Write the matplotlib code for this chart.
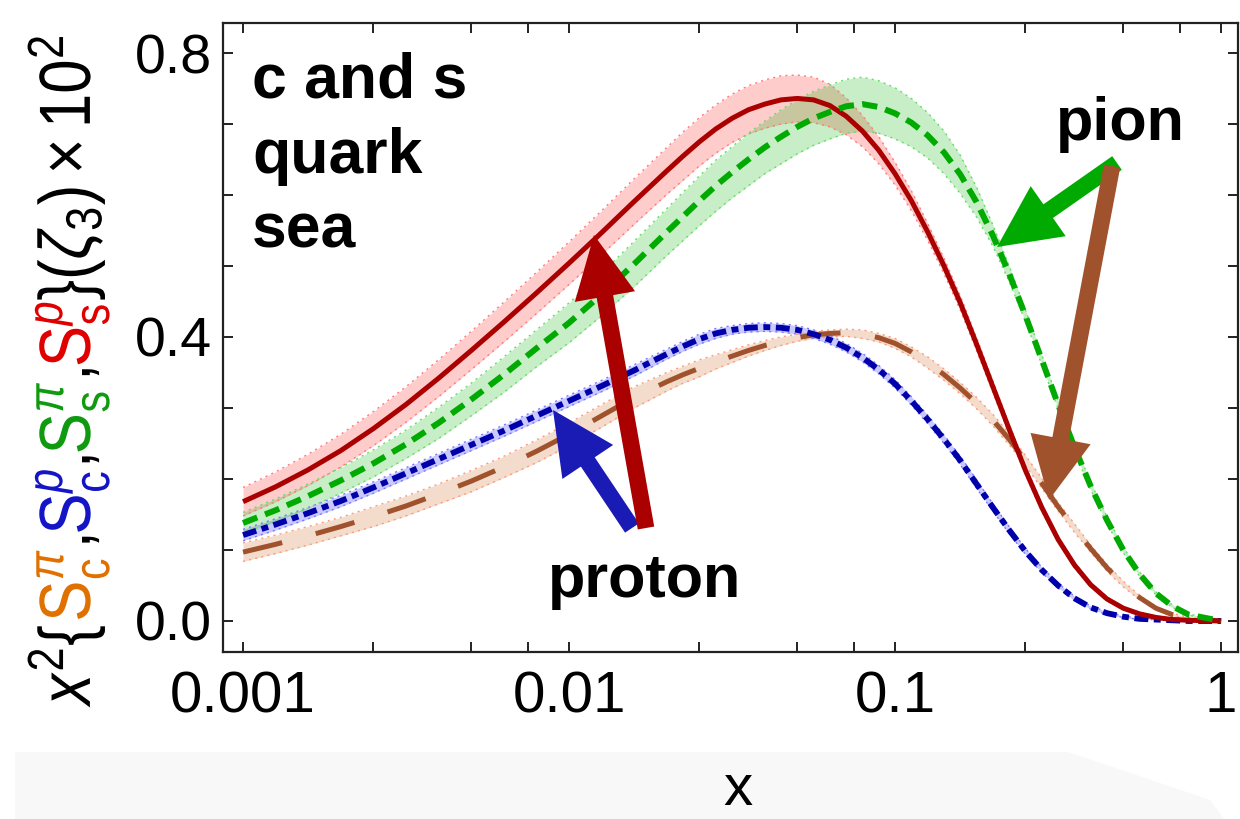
import numpy as np
import matplotlib
matplotlib.use("Agg")
import matplotlib.pyplot as plt
from matplotlib.patches import Polygon, PathPatch
from matplotlib.textpath import TextPath
from matplotlib.font_manager import FontProperties
from matplotlib.transforms import Affine2D
from matplotlib.ticker import FixedLocator, FixedFormatter, NullFormatter

plt.rcParams['font.family'] = ['Liberation Sans', 'DejaVu Sans']
plt.rcParams['mathtext.fontset'] = 'custom'
plt.rcParams['mathtext.rm'] = 'Liberation Sans'
plt.rcParams['mathtext.it'] = 'Liberation Sans:italic'
plt.rcParams['mathtext.bf'] = 'Liberation Sans:bold'
plt.rcParams['mathtext.sf'] = 'Liberation Sans'
plt.rcParams['lines.scale_dashes'] = False

# ---- data: x^2 * S(x) at zeta_3, scaled by 10^2 ----
x = [0.001, 0.001259, 0.001585, 0.001995, 0.002512, 0.003162, 0.003981,
     0.005012, 0.00631, 0.007943, 0.01, 0.01259, 0.01585,
     0.01995, 0.02239, 0.02512, 0.02818, 0.03162, 0.03548, 0.03981, 0.04467,
     0.05012, 0.05623, 0.0631, 0.07079, 0.07943, 0.08913, 0.1, 0.1122,
     0.1259, 0.1413, 0.1585, 0.1778, 0.1995, 0.2239, 0.2512, 0.2818,
     0.3162, 0.3548, 0.3981, 0.4467, 0.5012, 0.5623, 0.631, 0.7079,
     0.7943, 1.0]

# s quark, proton (red, solid)
ss_p = [0.168, 0.189, 0.213, 0.240, 0.271, 0.305, 0.342, 0.381, 0.421,
        0.462, 0.504, 0.547, 0.591,
        0.634, 0.655, 0.675, 0.693, 0.708, 0.720, 0.728, 0.734, 0.736, 0.734,
        0.726, 0.711, 0.690, 0.663, 0.630, 0.592, 0.548, 0.500, 0.448, 0.390,
        0.330, 0.270, 0.212, 0.160, 0.115, 0.079, 0.051, 0.031, 0.018, 0.010,
        0.005, 0.002, 0.001, 0.0]
ss_p_err = [0.020, 0.021, 0.022, 0.023, 0.024, 0.025, 0.026, 0.027, 0.028,
            0.029, 0.030, 0.031, 0.032,
            0.033, 0.034, 0.034, 0.034, 0.034, 0.034, 0.034, 0.034, 0.033,
            0.032, 0.030, 0.026, 0.022, 0.019, 0.016, 0.014, 0.012, 0.011,
            0.010, 0.009, 0.008, 0.007, 0.006, 0.005, 0.004, 0.004, 0.003,
            0.003, 0.002, 0.002, 0.001, 0.001, 0.0, 0.0]

# s quark, pion (green, dashed)
ss_pi = [0.138, 0.156, 0.176, 0.198, 0.222, 0.249, 0.279, 0.312, 0.347,
         0.384, 0.420, 0.460, 0.503,
         0.548, 0.570, 0.592, 0.613, 0.632, 0.650, 0.667, 0.682, 0.696, 0.708,
         0.717, 0.725, 0.728, 0.724, 0.715, 0.702, 0.684, 0.660, 0.629, 0.590,
         0.543, 0.489, 0.430, 0.368, 0.305, 0.245, 0.190, 0.142, 0.100, 0.066,
         0.039, 0.021, 0.009, 0.0]
ss_pi_err = [0.015, 0.016, 0.017, 0.018, 0.019, 0.020, 0.022, 0.023, 0.025,
             0.026, 0.028, 0.030, 0.032,
             0.033, 0.034, 0.035, 0.036, 0.036, 0.037, 0.037, 0.038, 0.038,
             0.038, 0.038, 0.038, 0.038, 0.037, 0.036, 0.034, 0.032, 0.030,
             0.027, 0.021, 0.015, 0.011, 0.008, 0.007, 0.006, 0.006, 0.005,
             0.005, 0.004, 0.003, 0.002, 0.002, 0.001, 0.0]

# c quark, proton (blue, dash-dot)
sc_p = [0.121, 0.136, 0.152, 0.169, 0.188, 0.208, 0.228, 0.248, 0.268,
        0.289, 0.310, 0.331, 0.353,
        0.376, 0.387, 0.397, 0.405, 0.410, 0.413, 0.414, 0.413, 0.410, 0.404,
        0.396, 0.385, 0.371, 0.354, 0.334, 0.310, 0.284, 0.256, 0.226, 0.193,
        0.160, 0.128, 0.098, 0.072, 0.050, 0.032, 0.019, 0.011, 0.006, 0.003,
        0.002, 0.001, 0.0, 0.0]
sc_p_err = [0.008, 0.008, 0.008, 0.008, 0.008, 0.008, 0.008, 0.008, 0.008,
            0.008, 0.008, 0.008, 0.008,
            0.007, 0.007, 0.007, 0.007, 0.006, 0.006, 0.006, 0.006, 0.006,
            0.006, 0.006, 0.006, 0.006, 0.006, 0.006, 0.006, 0.006, 0.006,
            0.006, 0.006, 0.005, 0.005, 0.004, 0.004, 0.003, 0.003, 0.002,
            0.002, 0.001, 0.001, 0.0, 0.0, 0.0, 0.0]

# c quark, pion (brown, long dashes)
sc_pi = [0.097, 0.108, 0.120, 0.133, 0.147, 0.162, 0.179, 0.197, 0.217,
         0.239, 0.263, 0.289, 0.315,
         0.337, 0.347, 0.356, 0.365, 0.373, 0.381, 0.388, 0.394, 0.399, 0.403,
         0.405, 0.406, 0.404, 0.399, 0.391, 0.379, 0.364, 0.347, 0.328, 0.307,
         0.283, 0.256, 0.226, 0.194, 0.161, 0.131, 0.102, 0.075, 0.052, 0.033,
         0.018, 0.009, 0.004, 0.0]
sc_pi_err = [0.013, 0.013, 0.013, 0.013, 0.014, 0.014, 0.014, 0.015, 0.015,
             0.016, 0.016, 0.016, 0.015,
             0.013, 0.012, 0.012, 0.010, 0.009, 0.008, 0.007, 0.006, 0.005,
             0.005, 0.005, 0.005, 0.006, 0.006, 0.007, 0.007, 0.008, 0.008,
             0.008, 0.008, 0.008, 0.008, 0.007, 0.007, 0.006, 0.006, 0.005,
             0.005, 0.004, 0.003, 0.002, 0.002, 0.001, 0.0]

x_major = [0.001, 0.01, 0.1, 1]
x_major_labels = ['0.001', '0.01', '0.1', '1']
x_minor = [0.0025, 0.005, 0.0075, 0.025, 0.05, 0.075, 0.25, 0.5, 0.75]
y_ticks = [0.0, 0.1, 0.2, 0.3, 0.4, 0.5, 0.6, 0.7, 0.8]
y_tick_labels = ['0.0', '', '', '', '0.4', '', '', '', '0.8']

W, H = 1240, 819
fig = plt.figure(figsize=(W / 100, H / 100), dpi=100)
ax = fig.add_axes([223 / W, 1 - 652 / H, 1015 / W, (652 - 22.7) / H])

xa = np.array(x)

series = [
    # values, errors, line colour, band rgba, edge colour, style, lw
    (sc_pi, sc_pi_err, '#a0522d', (0.85, 0.55, 0.35, 0.30), '#ff9a7a', (0, (29, 25)), 3.6),
    (sc_p, sc_p_err, '#0000aa', (0.30, 0.30, 1.00, 0.30), '#7a7aff', (0, (10, 4, 5, 4)), 4.2),
    (ss_p, ss_p_err, '#aa0000', (1.00, 0.00, 0.00, 0.20), '#ff7a7a', '-', 3.6),
    (ss_pi, ss_pi_err, '#00aa00', (0.00, 0.70, 0.00, 0.22), '#66dd66', (0, (11, 6)), 4.3),
]

for vals, errs, _, band, edge, _, _ in series:
    v = np.array(vals)
    e = np.array(errs)
    ax.fill_between(xa, v - e, v + e, color=band, lw=0, zorder=1)
    ax.plot(xa, v + e, color=edge, lw=1.0, ls=(0, (1.5, 3)), zorder=2)
    ax.plot(xa, v - e, color=edge, lw=1.0, ls=(0, (1.5, 3)), zorder=2)

for vals, _, col, _, _, ls, lw in series:
    ax.plot(xa, vals, color=col, lw=lw, ls=ls, zorder=3,
            solid_capstyle='butt', dash_capstyle='butt', solid_joinstyle='round')

ax.set_xscale('log')
ax.set_xlim(8.68e-4, 1.127)
ax.set_ylim(-0.0437, 0.8427)

ax.xaxis.set_major_locator(FixedLocator(x_major))
ax.xaxis.set_major_formatter(FixedFormatter(x_major_labels))
ax.xaxis.set_minor_locator(FixedLocator(x_minor))
ax.xaxis.set_minor_formatter(NullFormatter())
ax.yaxis.set_major_locator(FixedLocator(y_ticks))
ax.yaxis.set_major_formatter(FixedFormatter(y_tick_labels))

ax.tick_params(which='both', direction='in', top=True, right=True,
               length=7, width=1.4, color='#222222')
ax.tick_params(axis='x', which='major', labelsize=42, pad=13)
ax.tick_params(axis='y', which='major', labelsize=40, pad=8)
for sp in ax.spines.values():
    sp.set_linewidth(1.6)
    sp.set_color('#222222')

# panel text
fig.text(252 / W, 1 - 52 / H, 'c and s\nquark\nsea', fontsize=45,
         fontweight='bold', ha='left', va='top', linespacing=1.34)
fig.text(645 / W, 1 - 597 / H, 'proton', fontsize=44, fontweight='bold',
         ha='center', va='baseline')
fig.text(1120 / W, 1 - 140 / H, 'pion', fontsize=44, fontweight='bold',
         ha='center', va='baseline')


def arrow(tail, tip, color, z):
    ax.annotate('', xy=(tip[0], H - tip[1]), xytext=(tail[0], H - tail[1]),
                xycoords='figure pixels', textcoords='figure pixels',
                arrowprops=dict(arrowstyle='simple,head_length=4.5,head_width=4.4,tail_width=1.2',
                                color=color, mutation_scale=10, shrinkA=0, shrinkB=0,
                                lw=0),
                zorder=z, annotation_clip=False)


arrow((632, 528), (553, 410), '#1a1ab4', 5)
arrow((646, 528), (594, 235), '#aa0000', 6)
arrow((1117, 163), (997, 247), '#00aa00', 5)
arrow((1112, 166), (1049, 500), '#a0522d', 6)

# grey strip with the x-axis title
strip = Polygon([(15 / W, 0), (15 / W, 67 / H), (1068 / W, 67 / H),
                 (1210 / W, 19 / H), (1224 / W, 0)], closed=True,
                transform=fig.transFigure, facecolor='#f8f8f8', edgecolor='none',
                zorder=0)
fig.patches.append(strip)
fig.text(738 / W, 1 - 790 / H, 'x', fontsize=42, ha='center', va='center')

# multi-coloured vertical y-axis title, built piece by piece as glyph outlines
pieces = [
    (r'$x^2\{$', 'black'),
    (r'$\mathrm{S}_\mathrm{c}^{\pi}$', '#e07000'),
    (r'$,$', 'black'),
    (r'$\mathrm{S}_\mathrm{c}^{p}$', '#1515c8'),
    (r'$,$', 'black'),
    (r'$\mathrm{S}_\mathrm{s}^{\pi}$', '#109a10'),
    (r'$,$', 'black'),
    (r'$\mathrm{S}_\mathrm{s}^{p}$', '#e00000'),
    (r'$\}(\zeta_3)\times10^2$', 'black'),
]
ylab_pt = 40
ylab_px = ylab_pt * 100 / 72
fp = FontProperties(family='Liberation Sans', size=ylab_pt)
renderer = fig.canvas.get_renderer()
advances = []
for s, _ in pieces:
    t = fig.text(0, 0, s, fontsize=ylab_pt)
    advances.append(t.get_window_extent(renderer).width)
    t.remove()
label_bottom, label_top = 705, 35          # pixels from the top edge
along = (label_bottom - label_top) / sum(advances)
cross = 52 / (0.716 * ylab_px)             # cap height of about 52 px
x_base = 90
offset = 0.0
for (s, c), adv in zip(pieces, advances):
    tp = TextPath((0, 0), s, size=ylab_px, prop=fp)
    tr = (Affine2D().translate(offset, 0).scale(along, cross)
          .rotate_deg(90).translate(x_base, H - label_bottom))
    fig.add_artist(PathPatch(tp, transform=tr, facecolor=c, edgecolor='none'))
    offset += adv

fig.savefig('out.png', dpi=100)
